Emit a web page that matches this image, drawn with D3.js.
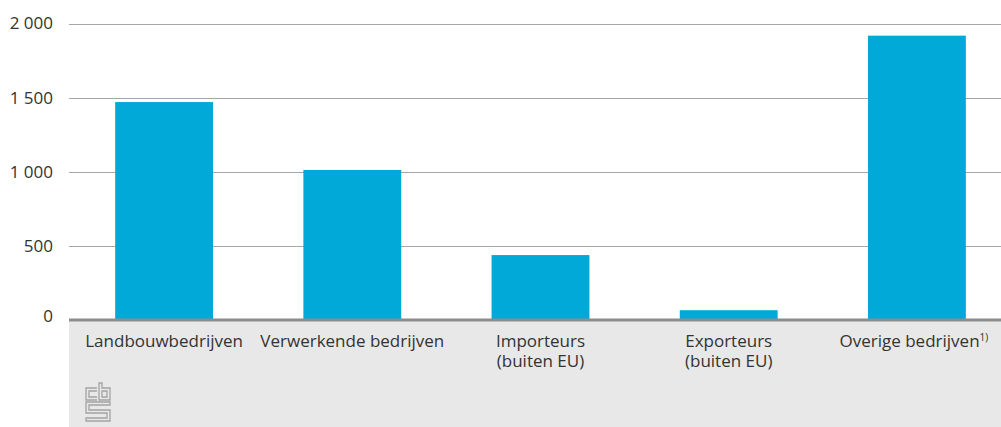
<!DOCTYPE html>
<html>
<head>
<meta charset="utf-8">
<script src="https://cdn.jsdelivr.net/npm/d3@7"></script>
<style>
  html, body { margin: 0; padding: 0; background: #fff; }
  svg { display: block; font-family: "Open Sans", sans-serif; }
</style>
</head>
<body>
<svg id="chart" width="1001" height="427"></svg>
<script>
// Data
const categories = ["Landbouwbedrijven", "Verwerkende bedrijven", "Importeurs (buiten EU)", "Exporteurs (buiten EU)", "Overige bedrijven"];
const labelLines = [["Landbouwbedrijven"], ["Verwerkende bedrijven"], ["Importeurs", "(buiten EU)"], ["Exporteurs", "(buiten EU)"], ["Overige bedrijven"]];
const labelNotes = ["", "", "", "", "1)"];
const values = [1470, 1012, 438, 66, 1918];
const yTicks = [0, 500, 1000, 1500, 2000];
const yTickLabels = ["0", "500", "1 000", "1 500", "2 000"];

const W = 1001, H = 427;
const plotLeft = 69, plotRight = 1001;
const y0 = 320, yTop = 23.5;
const fontSize = 17;

const svg = d3.select("#chart");

const x = d3.scaleBand()
  .domain(categories)
  .range([70, 1011])
  .paddingInner(0.48)
  .paddingOuter(0.24);

const y = d3.scaleLinear().domain([0, 2000]).range([y0, yTop]);

// grey label band
svg.append("rect")
  .attr("x", plotLeft).attr("y", y0)
  .attr("width", plotRight - plotLeft).attr("height", H - y0)
  .attr("fill", "#e8e8e8");

// gridlines
svg.append("g").selectAll("line")
  .data(yTicks.filter(d => d > 0))
  .join("line")
  .attr("x1", plotLeft).attr("x2", plotRight)
  .attr("y1", d => Math.round(y(d)) + 0.5).attr("y2", d => Math.round(y(d)) + 0.5)
  .attr("stroke", "#a6a6a6").attr("stroke-width", 1);

// y tick labels
svg.append("g").selectAll("text")
  .data(yTicks)
  .join("text")
  .attr("x", 53)
  .attr("y", d => y(d))
  .attr("dy", d => d === 0 ? "0.1em" : "0.35em")
  .attr("text-anchor", "end")
  .attr("font-size", fontSize + "px")
  .attr("fill", "#333")
  .text((d, i) => yTickLabels[i]);

// bars
svg.append("g").selectAll("rect")
  .data(values)
  .join("rect")
  .attr("x", (d, i) => x(categories[i]))
  .attr("width", x.bandwidth())
  .attr("y", d => y(d))
  .attr("height", d => y(0) - y(d))
  .attr("fill", "#00a9d8");

// zero line
svg.append("line")
  .attr("x1", plotLeft).attr("x2", plotRight)
  .attr("y1", y(0)).attr("y2", y(0))
  .attr("stroke", "#8c8c8c").attr("stroke-width", 3);

// category labels (one text element per line)
const labelG = svg.append("g")
  .attr("font-size", fontSize + "px")
  .attr("fill", "#333")
  .attr("text-anchor", "middle");

categories.forEach((cat, i) => {
  const cx = x(cat) + x.bandwidth() / 2 + (labelNotes[i] ? -3 : 0);
  labelLines[i].forEach((line, j) => {
    const t = labelG.append("text")
      .attr("x", cx)
      .attr("y", 347 + j * 20)
      .text(line);
    if (labelNotes[i] && j === labelLines[i].length - 1) {
      t.append("tspan")
        .attr("dy", -6)
        .attr("font-size", "10px")
        .text(labelNotes[i]);
    }
  });
});

// CBS logo (approximation)
const logo = svg.append("g")
  .attr("transform", "translate(85,383)")
  .attr("fill", "none")
  .attr("stroke", "#a3a3a3")
  .attr("stroke-width", 1.3);
logo.append("path").attr("d", "M12,5 H1 V17 H12 M12,8 H4 V14 H12");
logo.append("path").attr("d", "M14,0 V17 H25 V5 H17 V0 Z M17,8 H22 V14 H17 Z");
logo.append("path").attr("d", "M25,19 H1 V30 H22 V35 H1 V38 H25 V27 H4 V22 H25 Z");
</script>
</body>
</html>
